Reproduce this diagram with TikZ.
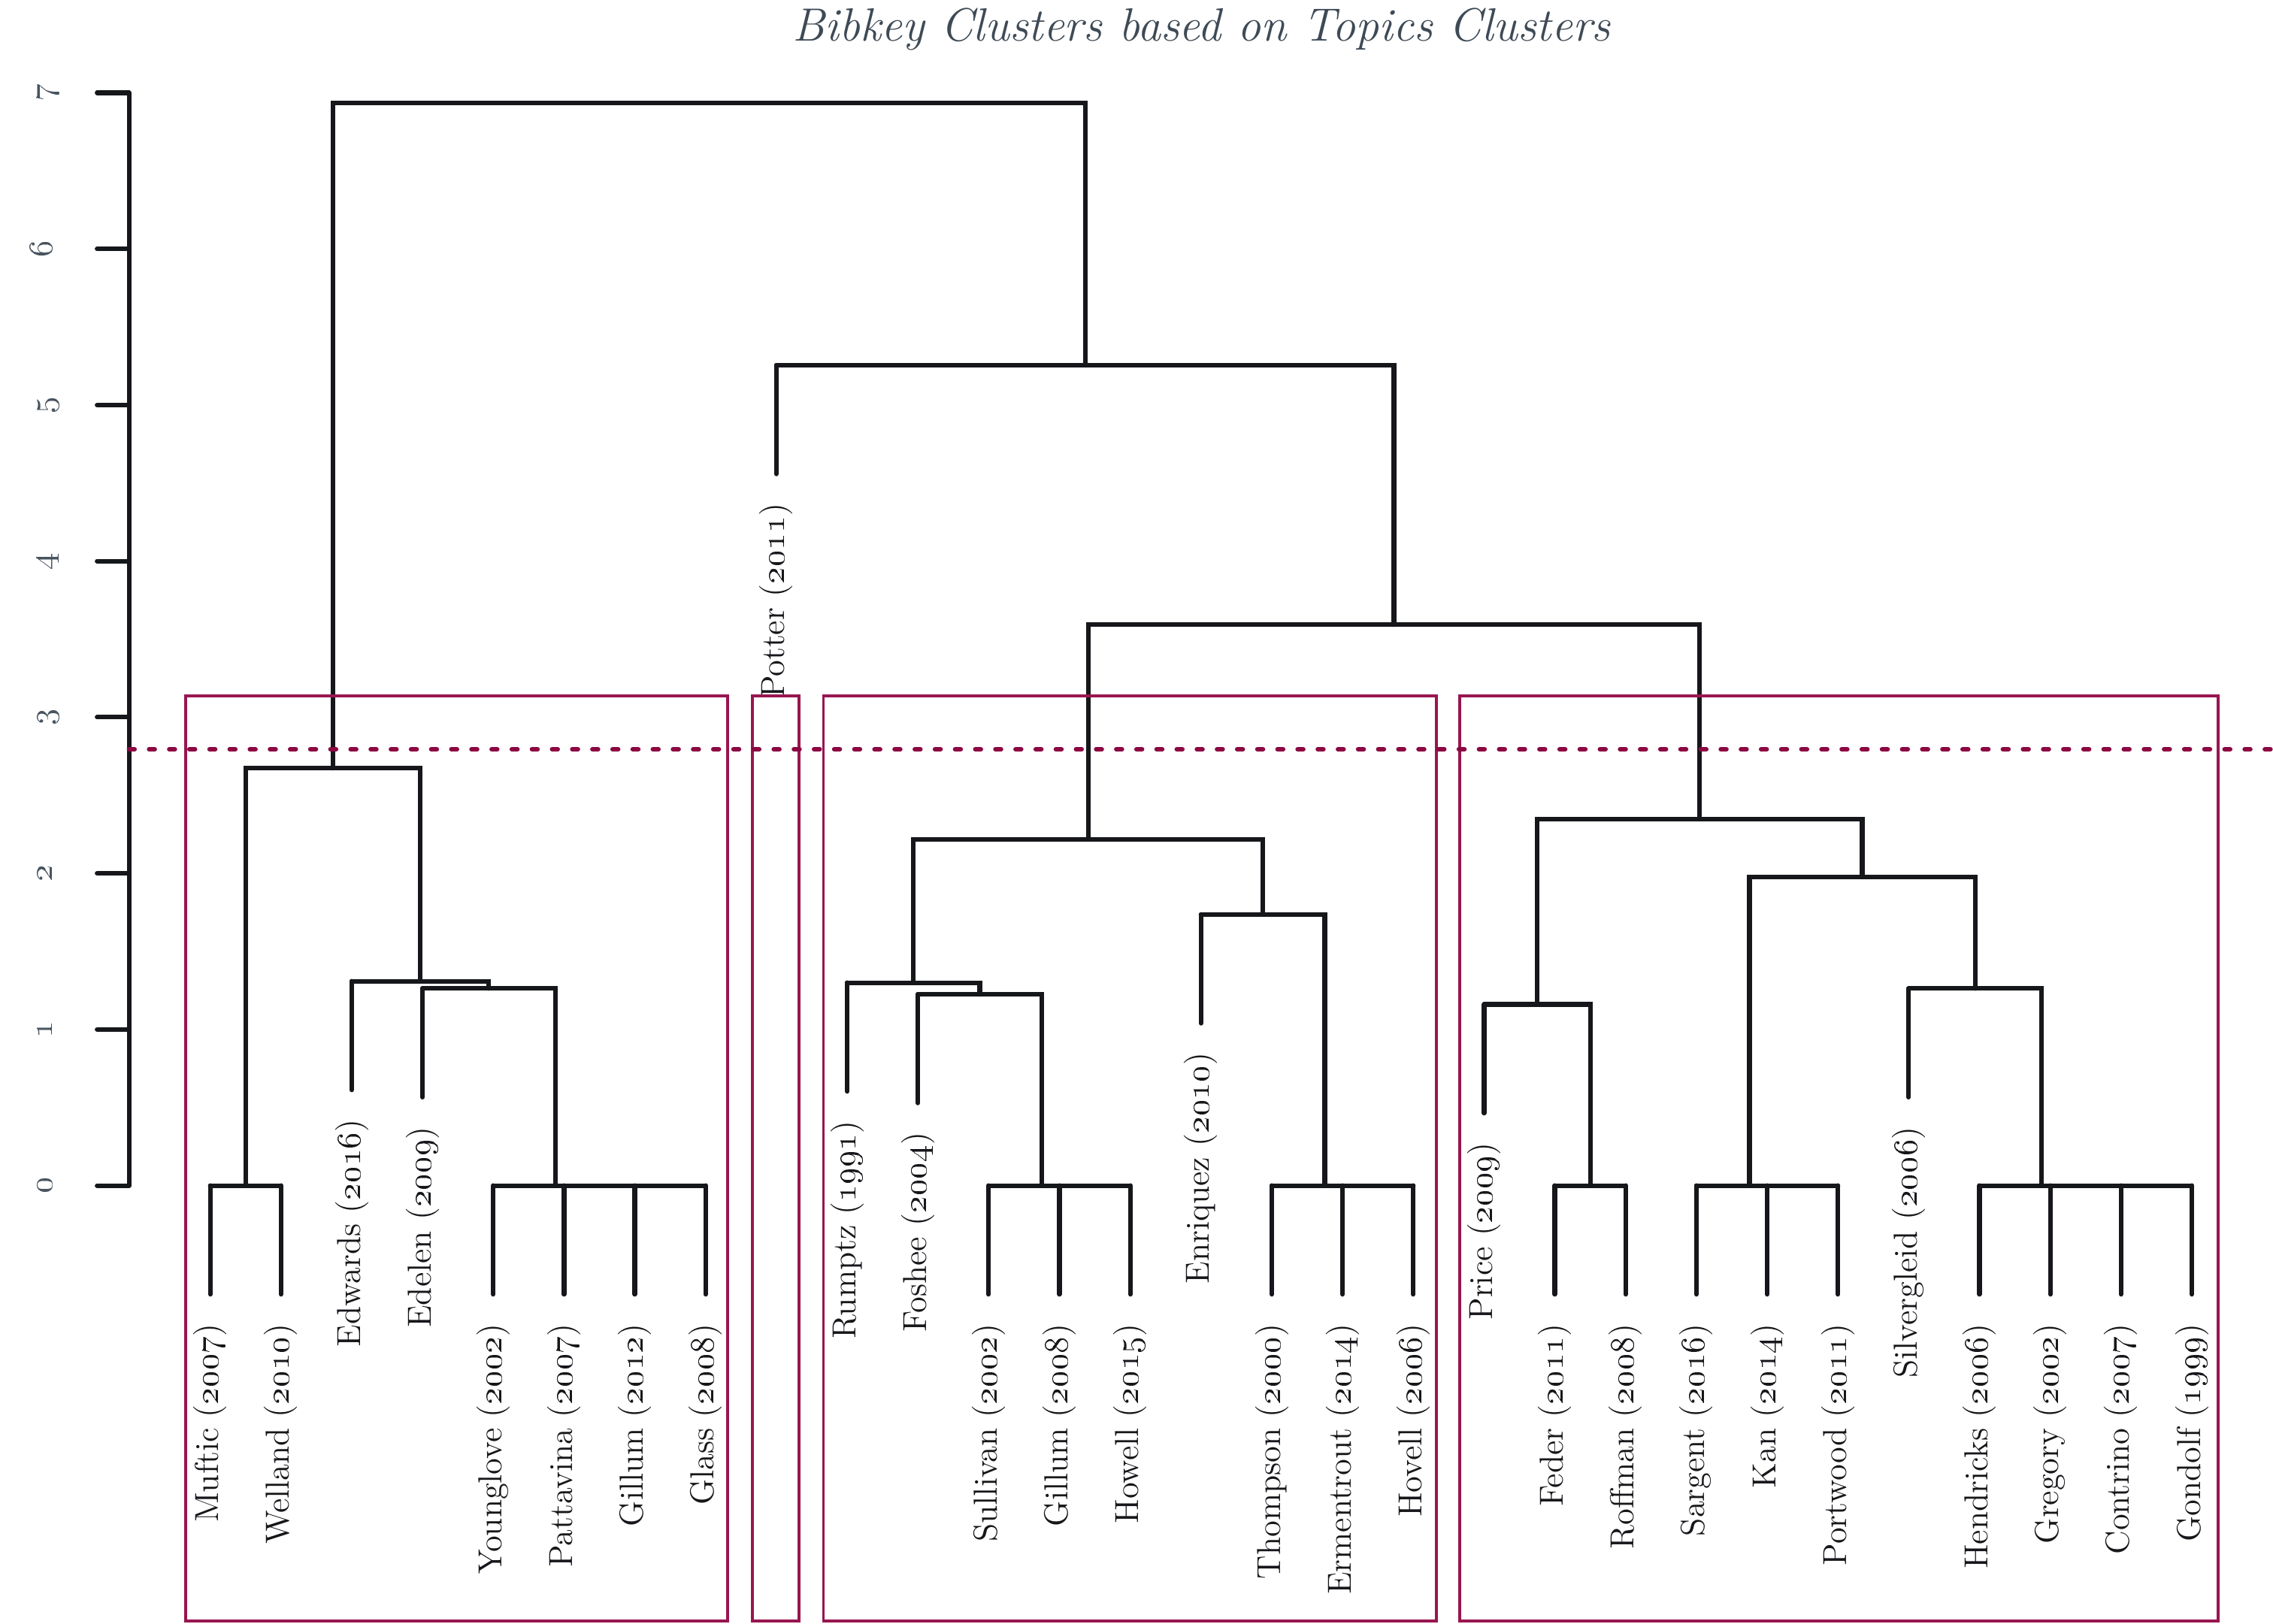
\documentclass[tikz,border=0pt]{standalone}
\usetikzlibrary{calc}
\definecolor{dend}{RGB}{22,23,26}
\definecolor{boxc}{RGB}{152,22,80}
\definecolor{cutc}{RGB}{140,6,66}
\definecolor{axc}{RGB}{72,84,96}
\definecolor{titc}{RGB}{62,74,86}
\newcommand{\leafdraw}[4]{%
  \coordinate (L#1) at ({145+48.82*(#1-1)},#2);
  \coordinate (E#1) at ({145+48.82*(#1-1)},{#2+75});
  \coordinate (P#1) at ({145+48.82*(#1-1)},{#2+95});
  \draw[dl] (L#1) -- (E#1);
  \node[leaflab] (T#1) at (P#1) {#3 (\oldstylenums{#4})};
}
\newcommand{\mrg}[4]{%
  \coordinate (#1tmp) at ($(#2)!.5!(#3)$);
  \coordinate (#1yy) at (0,#4);
  \coordinate (#1) at (#1tmp |- #1yy);
  \draw[dl] (#2) -- (#2 |- #1) -- (#3 |- #1) -- (#3);
}
\begin{document}
\begin{tikzpicture}[x=0.5pt,y=-0.5pt,
  dl/.style={draw=dend,line width=1.6pt,line cap=round,line join=miter},
  clbox/.style={draw=boxc,line width=1pt},
  cut/.style={draw=cutc,line width=1.6pt,line cap=round,dash pattern=on 1.9pt off 5.05pt},
  leaflab/.style={rotate=90,anchor=east,inner sep=0pt,font=\fontsize{11.5}{13}\selectfont,text=dend},
  axlab/.style={rotate=90,anchor=base,inner sep=0pt,font=\fontsize{12}{14}\selectfont,text=axc}]
\useasboundingbox (0,0) rectangle (1568,1120);
% title
\node[anchor=base,inner sep=0pt,text=titc,font=\fontsize{16.1}{18}\selectfont\itshape] (title) at (829,28) {Bibkey Clusters based on Topics Clusters};
% axis
\coordinate (axtop) at (89,64);
\coordinate (axbot) at (89,818);
\draw[dl] (axtop) -- (axbot);
\foreach \k in {0,...,7}{
  \coordinate (tk\k) at (89,{818-107.71*\k});
  \coordinate (tl\k) at (67,{818-107.71*\k});
  \draw[dl] (tl\k) -- (tk\k);
  \node[axlab] (al\k) at (36,{818-107.71*\k}) {\oldstylenums{\k}};
}
% leaves
\leafdraw{1}{818}{Muftic}{2007}
\leafdraw{2}{818}{Welland}{2010}
\leafdraw{3}{677}{Edwards}{2016}
\leafdraw{4}{682}{Edelen}{2009}
\leafdraw{5}{818}{Younglove}{2002}
\leafdraw{6}{818}{Pattavina}{2007}
\leafdraw{7}{818}{Gillum}{2012}
\leafdraw{8}{818}{Glass}{2008}
\leafdraw{9}{252}{Potter}{2011}
\leafdraw{10}{678}{Rumptz}{1991}
\leafdraw{11}{686}{Foshee}{2004}
\leafdraw{12}{818}{Sullivan}{2002}
\leafdraw{13}{818}{Gillum}{2008}
\leafdraw{14}{818}{Howell}{2015}
\leafdraw{15}{631}{Enriquez}{2010}
\leafdraw{16}{818}{Thompson}{2000}
\leafdraw{17}{818}{Ermentrout}{2014}
\leafdraw{18}{818}{Hovell}{2006}
\leafdraw{19}{693}{Price}{2009}
\leafdraw{20}{818}{Feder}{2011}
\leafdraw{21}{818}{Roffman}{2008}
\leafdraw{22}{818}{Sargent}{2016}
\leafdraw{23}{818}{Kan}{2014}
\leafdraw{24}{818}{Portwood}{2011}
\leafdraw{25}{682}{Silvergleid}{2006}
\leafdraw{26}{818}{Hendricks}{2006}
\leafdraw{27}{818}{Gregory}{2002}
\leafdraw{28}{818}{Contrino}{2007}
\leafdraw{29}{818}{Gondolf}{1999}
% merges cluster 1
\mrg{aa}{L1}{L2}{818}
\mrg{ab}{L7}{L8}{818}
\mrg{ac}{L6}{ab}{818}
\mrg{ad}{L5}{ac}{818}
\mrg{ae}{L4}{ad}{682}
\mrg{af}{L3}{ae}{677}
\mrg{ag}{aa}{af}{530}
% cluster 3
\mrg{ba}{L13}{L14}{818}
\mrg{bb}{L12}{ba}{818}
\mrg{bc}{L11}{bb}{686}
\mrg{bd}{L10}{bc}{678}
\mrg{be}{L17}{L18}{818}
\mrg{bf}{L16}{be}{818}
\mrg{bg}{L15}{bf}{631}
\mrg{bh}{bd}{bg}{579}
% cluster 4
\mrg{ca}{L20}{L21}{818}
\mrg{cb}{L19}{ca}{693}
\mrg{cc}{L23}{L24}{818}
\mrg{cd}{L22}{cc}{818}
\mrg{ce}{L28}{L29}{818}
\mrg{cf}{L27}{ce}{818}
\mrg{cg}{L26}{cf}{818}
\mrg{ch}{L25}{cg}{682}
\mrg{ci}{cd}{ch}{605}
\mrg{cj}{cb}{ci}{565}
% top
\mrg{da}{bh}{cj}{431}
\mrg{db}{L9}{da}{252}
\mrg{dc}{ag}{db}{71}
% cluster boxes
\draw[clbox] (128,480) rectangle (502,1118.5);
\draw[clbox] (519,480) rectangle (551,1118.5);
\draw[clbox] (568,480) rectangle (991,1118.5);
\draw[clbox] (1007,480) rectangle (1530,1118.5);
% cut line
\coordinate (cutl) at (89,517);
\coordinate (cutr) at (1570,517);
\draw[cut] (cutl) -- (cutr);
\end{tikzpicture}
\end{document}
